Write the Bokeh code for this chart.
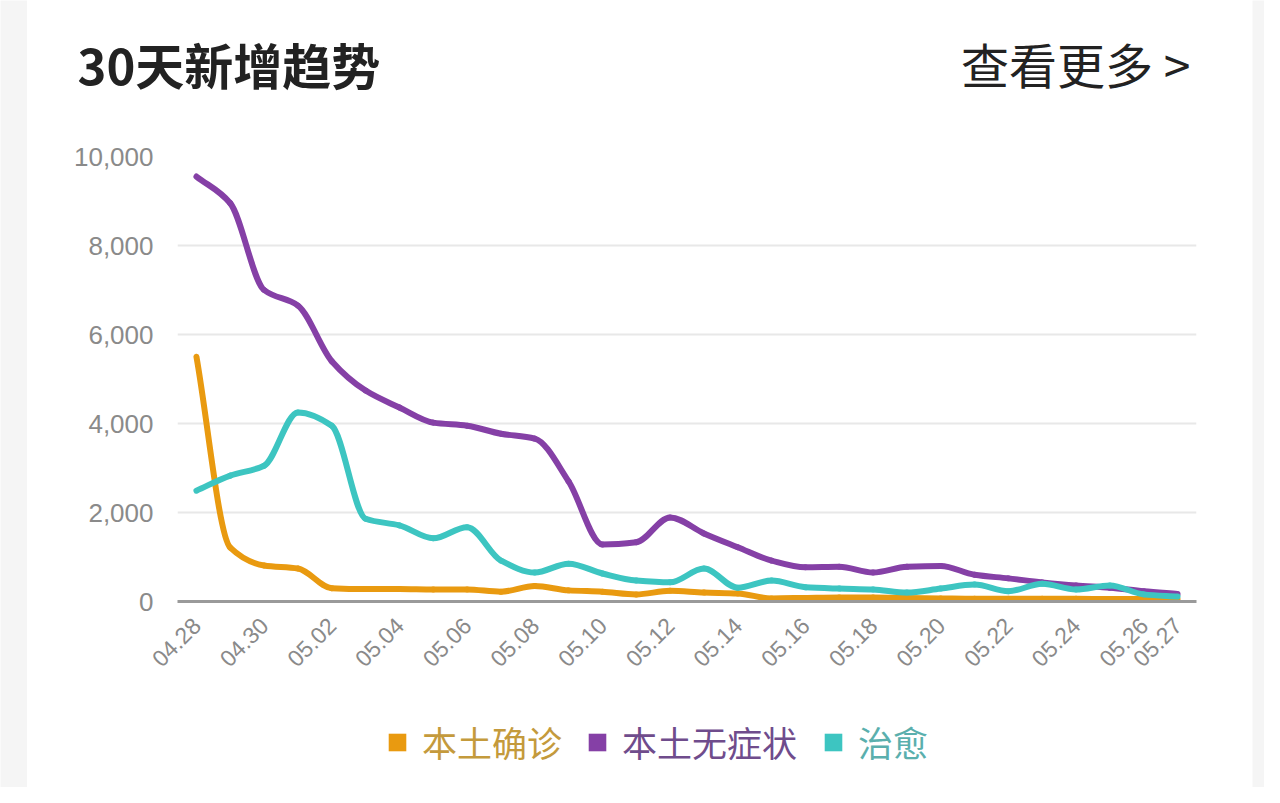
import numpy as np
from bokeh.plotting import figure
from bokeh.layouts import column, row
from bokeh.models import (FixedTicker, NumeralTickFormatter, Label, Legend,
                          LegendItem, ColumnDataSource, Range1d)
from bokeh.embed import file_html
from bokeh.resources import INLINE

# ---------------- data ----------------
dates = ["04.28", "04.29", "04.30", "05.01", "05.02", "05.03", "05.04", "05.05",
         "05.06", "05.07", "05.08", "05.09", "05.10", "05.11", "05.12", "05.13",
         "05.14", "05.15", "05.16", "05.17", "05.18", "05.19", "05.20", "05.21",
         "05.22", "05.23", "05.24", "05.25", "05.26", "05.27"]

local_confirmed = [5500, 1210, 810, 740, 300, 280, 280, 270, 270, 220,
                   350, 250, 220, 160, 240, 200, 180, 70, 80, 90,
                   90, 80, 70, 60, 60, 60, 60, 55, 55, 50]

local_asymptomatic = [9550, 8950, 7000, 6650, 5400, 4740, 4360, 4020, 3950, 3770,
                      3660, 2700, 1280, 1330, 1890, 1530, 1220, 920, 770, 780,
                      650, 780, 800, 600, 520, 430, 360, 310, 230, 170]

cured = [2490, 2830, 3050, 4250, 3950, 1860, 1710, 1420, 1670, 920,
         650, 850, 630, 470, 430, 740, 310, 470, 320, 290,
         270, 200, 290, 380, 230, 400, 270, 360, 160, 110]

series_names = ["本土确诊", "本土无症状", "治愈"]
series_values = [local_confirmed, local_asymptomatic, cured]
series_colors = ["#E99A10", "#8540A6", "#3DC5C1"]
label_colors = ["#C49A3C", "#6F4C8C", "#5AAFAD"]

y_ticks = [0, 2000, 4000, 6000, 8000, 10000]
x_tick_idx = list(range(0, len(dates), 2)) + [len(dates) - 1]

title_text = "30天新增趋势"
more_text = "查看更多 >"

CJK = "Noto Sans CJK SC"
NUM = "Liberation Sans"
PAGE_BG = "#F5F5F5"
CARD_W = 1225


def monotone_bezier(xs, ys):
    """Monotone cubic (Fritsch-Carlson) segments expressed as Bezier controls."""
    x = np.asarray(xs, float)
    y = np.asarray(ys, float)
    h = np.diff(x)
    d = np.diff(y) / h
    m = np.zeros_like(y)
    m[0] = d[0]
    m[-1] = d[-1]
    for i in range(1, len(y) - 1):
        if d[i - 1] * d[i] <= 0:
            m[i] = 0.0
        else:
            w1 = 2 * h[i] + h[i - 1]
            w2 = h[i] + 2 * h[i - 1]
            m[i] = (w1 + w2) / (w1 / d[i - 1] + w2 / d[i])
    x0, x1, y0, y1 = x[:-1], x[1:], y[:-1], y[1:]
    return dict(x0=x0, y0=y0, x1=x1, y1=y1,
                cx0=x0 + h / 3, cy0=y0 + m[:-1] * h / 3,
                cx1=x1 - h / 3, cy1=y1 - m[1:] * h / 3)


def blank(width, height, fill="white"):
    f = figure(width=width, height=height, output_backend="svg",
               toolbar_location=None, x_axis_type=None, y_axis_type=None,
               x_range=Range1d(0, 1), y_range=Range1d(0, 1), min_border=0,
               frame_align=False)
    f.outline_line_color = None
    f.background_fill_color = fill
    f.border_fill_color = fill
    f.grid.visible = False
    return f


# ---------------- header ----------------
header = blank(CARD_W, 120)
header.add_layout(Label(x=50, y=57, x_units="screen", y_units="screen",
                        text=title_text, text_font=CJK, text_font_style="bold",
                        text_font_size="49px", text_color="#222222",
                        text_baseline="middle", text_align="left"))
header.add_layout(Label(x=1163, y=58, x_units="screen", y_units="screen",
                        text=more_text, text_font=CJK,
                        text_font_size="48px", text_color="#222222",
                        text_baseline="middle", text_align="right"))

# ---------------- main chart ----------------
p = figure(width=CARD_W, height=580, output_backend="svg", toolbar_location=None,
           x_range=Range1d(-0.56, len(dates) - 1 + 0.56), y_range=Range1d(0, 10000),
           min_border_left=150, min_border_right=56,
           min_border_top=36, min_border_bottom=99, frame_align=False)
p.outline_line_color = None
p.background_fill_color = "white"
p.border_fill_color = "white"

p.xgrid.visible = False
p.ygrid.grid_line_color = "#E8E8E8"
p.ygrid.grid_line_width = 2

p.yaxis.ticker = FixedTicker(ticks=y_ticks)
p.yaxis.formatter = NumeralTickFormatter(format="0,0")
p.yaxis.axis_line_color = None
p.yaxis.major_tick_line_color = None
p.yaxis.minor_tick_line_color = None
p.yaxis.major_tick_out = 0
p.yaxis.minor_tick_out = 0
p.yaxis.major_label_text_font = NUM
p.yaxis.major_label_text_font_size = "26px"
p.yaxis.major_label_text_color = "#8A8A8A"
p.yaxis.major_label_standoff = 24

p.xaxis.ticker = FixedTicker(ticks=x_tick_idx)
p.xaxis.major_label_overrides = {i: dates[i] for i in x_tick_idx}
p.xaxis.major_label_orientation = np.pi / 4
p.xaxis.axis_line_color = "#9A9A9A"
p.xaxis.axis_line_width = 3
p.xaxis.major_tick_line_color = None
p.xaxis.minor_tick_line_color = None
p.xaxis.major_tick_out = 0
p.xaxis.minor_tick_out = 0
p.xaxis.major_label_text_font = NUM
p.xaxis.major_label_text_font_size = "23px"
p.xaxis.major_label_text_color = "#8A8A8A"
p.xaxis.major_label_standoff = 20

xs = list(range(len(dates)))
for name, vals, col in zip(series_names, series_values, series_colors):
    src = ColumnDataSource(monotone_bezier(xs, vals))
    p.bezier(x0="x0", y0="y0", x1="x1", y1="y1", cx0="cx0", cy0="cy0",
             cx1="cx1", cy1="cy1", source=src, line_color=col, line_width=6,
             line_cap="round")

# ---------------- legend strip ----------------
leg_fig = blank(CARD_W, 87)
legend_x = [359, 559, 795]
nan1 = np.array([np.nan])
for name, col, lc, lx in zip(series_names, series_colors, label_colors, legend_x):
    r = leg_fig.quad(left=nan1, right=nan1, top=nan1, bottom=nan1,
                     fill_color=col, line_color=None)
    leg = Legend(items=[LegendItem(label=name, renderers=[r])],
                 location=(lx, 20), orientation="horizontal",
                 border_line_color=None, background_fill_alpha=0,
                 label_text_font=CJK, label_text_font_size="35px",
                 label_text_color=lc, glyph_width=22, glyph_height=22,
                 label_height=40, label_standoff=14, padding=0, margin=0, spacing=0)
    leg_fig.add_layout(leg)

# ---------------- page strips ----------------
left_strip = blank(27, 787, PAGE_BG)
right_strip = blank(12, 787, PAGE_BG)

layout = row(left_strip, column(header, p, leg_fig, spacing=0), right_strip, spacing=0)

open("out.html", "w").write(file_html(layout, INLINE))
